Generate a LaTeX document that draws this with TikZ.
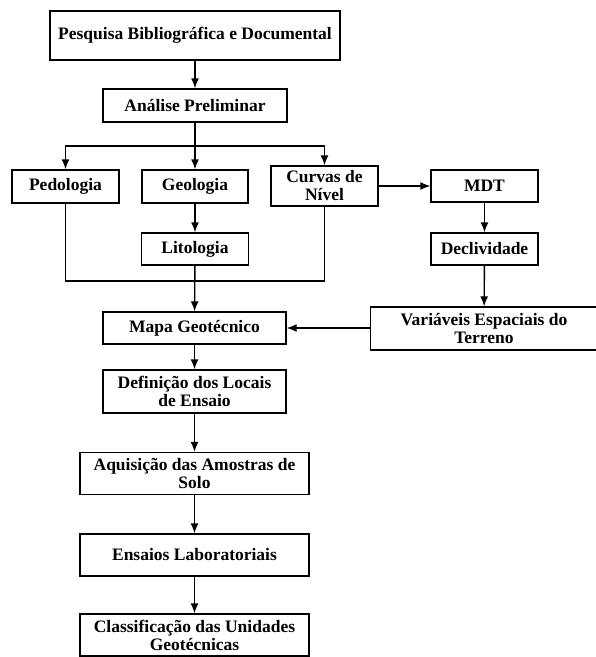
\documentclass[tikz,border=0pt]{standalone}
\usepackage{fontspec}
\setmainfont{Liberation Serif}
\usetikzlibrary{arrows.meta}
\begin{document}
\begin{tikzpicture}[x=1pt,y=-1pt,
  box/.style={draw,line width=1.4pt,fill=white,align=center,inner sep=1pt,
    font=\bfseries\fontsize{17.5}{18}\selectfont},
  arr/.style={line width=1.4pt,-{Latex[length=10pt,width=8pt]}},
  ln/.style={line width=1.4pt}]
\useasboundingbox (0,0) rectangle (596,657);
\node[box,minimum width=290pt,minimum height=49pt] (p1) at (195,35.5) {Pesquisa Bibliográfica e Documental};
\node[box,minimum width=184pt,minimum height=33pt] (p2) at (195,105.5) {Análise Preliminar};
\node[box,minimum width=107pt,minimum height=33pt] (ped) at (65.5,186.5) {Pedologia};
\node[box,minimum width=106pt,minimum height=33pt] (geo) at (195,186.5) {Geologia};
\node[box,minimum width=107pt,minimum height=40pt] (cur) at (324.5,186) {Curvas de\\Nível};
\node[box,minimum width=107pt,minimum height=32pt] (mdt) at (484.5,186) {MDT};
\node[box,minimum width=107pt,minimum height=32pt] (lit) at (195,249) {Litologia};
\node[box,minimum width=107pt,minimum height=32pt] (dec) at (484.5,249) {Declividade};
\node[box,minimum width=183pt,minimum height=32pt] (mapa) at (194.5,328) {Mapa Geotécnico};
\node[box,minimum width=227pt,minimum height=43pt] (var) at (484,328.5) {Variáveis Espaciais do\\Terreno};
\node[box,minimum width=183pt,minimum height=43pt] (def) at (194.5,391.5) {Definição dos Locais\\de Ensaio};
\node[box,minimum width=229pt,minimum height=42pt] (aq) at (194.5,473.5) {Aquisição das Amostras de\\Solo};
\node[box,minimum width=229pt,minimum height=42pt] (ens) at (194.5,555) {Ensaios Laboratoriais};
\node[box,minimum width=229pt,minimum height=42pt] (cls) at (194.5,635) {Classificação das Unidades\\Geotécnicas};
\coordinate (br) at (195,146);
\coordinate (mg) at (195,281);
\draw[arr] (p1) -- (p2);
\draw[ln] (p2.south) -- (br);
\draw[arr] (br) -- (geo);
\draw[arr] (br) -| (ped);
\draw[arr] (br) -| (cur.north);
\draw[arr] (cur.east) -- (mdt.west |- cur.east);
\draw[arr] (mdt) -- (dec);
\draw[arr] (dec) -- (var);
\draw[arr] (geo) -- (lit);
\draw[ln] (ped.south) -- (ped.south |- mg) -- (cur.south |- mg) -- (cur.south);
\draw[arr] (lit) -- (mapa);
\draw[arr] (var.west |- mapa.east) -- (mapa.east);
\draw[arr] (mapa) -- (def);
\draw[arr] (def) -- (aq);
\draw[arr] (aq) -- (ens);
\draw[arr] (ens) -- (cls);
\end{tikzpicture}
\end{document}
